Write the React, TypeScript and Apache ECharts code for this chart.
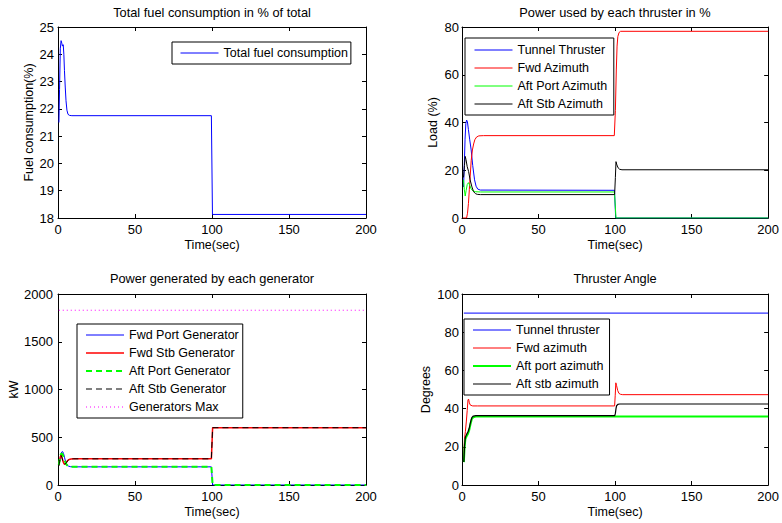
import React, { useEffect, useRef } from "react";
import * as echarts from "echarts";

const FONT = "'Liberation Sans', Arial, Helvetica, sans-serif";

// ---- Total fuel consumption (% of total) ----
const fuelTime = [0.6, 1.0, 1.5, 2.0, 2.5, 2.9, 3.4, 3.8, 4.2, 4.7, 5.2, 5.8, 6.5, 7.5, 9, 99.6, 100.3, 200];
const fuelPct = [21.5, 22.7, 24.2, 24.5, 24.4, 24.3, 24.35, 24.0, 23.4, 22.8, 22.3, 21.95, 21.8, 21.76, 21.75, 21.75, 18.13, 18.13];

// ---- Power used by each thruster (%) ----
const tunnelLoadTime = [1.0, 1.5, 2.0, 2.5, 3.0, 3.5, 4.2, 5.0, 6.0, 7.0, 8.2, 9.2, 10.3, 12, 99.6, 100.4, 200];
const tunnelLoad = [13, 22, 33, 39.5, 41, 40.5, 37, 33, 28.5, 22, 16, 13.3, 12.1, 11.7, 11.6, 0, 0];
const fwdLoadTime = [0.5, 3.0, 3.6, 4.2, 4.8, 5.4, 6.0, 6.8, 7.6, 8.4, 9.5, 11, 14, 99.5, 100.2, 100.8, 101.3, 101.8, 102.6, 103.6, 200];
const fwdLoad = [0, 0, 2, 6, 12, 18, 24, 28.5, 31, 32.8, 33.9, 34.4, 34.5, 34.5, 45, 62, 72, 76, 77.7, 78.2, 78.2];
const aftPortLoadTime = [1.0, 1.5, 2.1, 2.7, 3.4, 4.2, 5.0, 6.0, 7.2, 9, 12, 99.6, 100.6, 200];
const aftPortLoad = [16, 12, 9.2, 11.5, 14, 14.8, 13.8, 12.2, 11.3, 11, 10.9, 10.9, 0, 0];
const aftStbLoadTime = [1.0, 1.6, 2.1, 2.6, 3.4, 4.3, 5.3, 6.5, 7.6, 8.8, 10, 12, 99.7, 100.2, 100.6, 101.2, 102, 103, 104.5, 200];
const aftStbLoad = [17, 22, 25.8, 24.5, 21.5, 19.5, 16, 13, 11, 10.2, 9.9, 9.8, 9.8, 17, 23.6, 22.2, 21, 20.4, 20.2, 20.2];

// ---- Power generated by each generator (kW) ----
const portGenTime = [0.5, 1.2, 1.8, 2.4, 3.0, 3.6, 4.3, 5.0, 5.8, 6.8, 8, 10, 99.6, 100.4, 200];
const fwdPortGen = [205, 250, 310, 345, 350, 330, 285, 240, 212, 198, 192, 190, 190, 0, 0];
const aftPortGen = [210, 270, 320, 330, 320, 295, 260, 228, 208, 196, 191, 190, 190, 0, 0];
const stbGenTime = [0.5, 1.0, 1.5, 2.0, 2.6, 3.2, 3.9, 4.6, 5.4, 6.2, 7.2, 8.5, 10, 99.6, 100.4, 200];
const fwdStbGen = [205, 250, 295, 312, 290, 250, 222, 218, 235, 255, 267, 272, 274, 274, 600, 600];
const aftStbGen = [200, 245, 290, 308, 285, 248, 222, 218, 233, 253, 266, 272, 274, 274, 600, 600];
const genMaxTime = [0.5, 200];
const genMax = [1830, 1830];

// ---- Thruster angle (degrees) ----
const tunnelAngTime = [1.2, 200];
const tunnelAng = [90, 90];
const fwdAngTime = [1.1, 1.6, 2.2, 2.8, 3.4, 3.9, 4.3, 4.8, 5.5, 7, 10, 99.7, 100.1, 100.5, 101, 101.7, 102.5, 103.5, 105, 200];
const fwdAng = [12.5, 24, 28, 33, 39, 44.5, 45, 43, 41.8, 41.4, 41.4, 41.4, 47, 53.5, 52, 49.5, 48, 47.5, 47.3, 47.3];
const aftPortAngTime = [1.2, 1.7, 2.2, 3.0, 4.0, 4.8, 5.6, 6.4, 7.4, 9, 200];
const aftPortAng = [12, 20, 24, 25.5, 27, 29, 32, 34.5, 35.5, 35.8, 35.8];
const aftStbAngTime = [1.2, 1.7, 2.2, 3.0, 4.0, 4.8, 5.6, 6.4, 7.4, 9, 99.8, 100.2, 100.6, 101.0, 101.8, 103, 200];
const aftStbAng = [12, 21, 25, 26.5, 28, 30, 33, 35.3, 36.1, 36.3, 36.3, 37.5, 40, 41.5, 42.2, 42.4, 42.4];

const timeTicks = { min: 0, max: 200, interval: 50 };

const zip = (t: number[], v: number[]) => t.map((x, i) => [x, v[i]]);

const txt = (size: number) => ({ color: "#000", fontFamily: FONT, fontSize: size });

const plain = (v: number) => String(v);

const boxAxes = (
  g: number,
  y: { min: number; max: number; interval: number },
  yName: string,
  yNameGap: number,
  yLabelMargin: number
) => {
  const line = { show: true, onZero: false, lineStyle: { color: "#000", width: 1 } };
  const tick = { show: true, inside: true, length: 4, lineStyle: { color: "#000", width: 1 } };
  const xAxes = [
    {
      gridIndex: g, type: "value", position: "bottom", ...timeTicks,
      axisLine: line, axisTick: tick, splitLine: { show: false },
      axisLabel: { ...txt(13), margin: 5, formatter: plain },
      name: "Time(sec)", nameLocation: "middle", nameGap: 20, nameTextStyle: txt(12.5),
    },
    {
      gridIndex: g, type: "value", position: "top", ...timeTicks,
      axisLine: line, axisTick: tick, splitLine: { show: false }, axisLabel: { show: false },
    },
  ];
  const yAxes = [
    {
      gridIndex: g, type: "value", position: "left", ...y,
      axisLine: line, axisTick: tick, splitLine: { show: false },
      axisLabel: { ...txt(13), margin: yLabelMargin, formatter: plain },
      name: yName, nameLocation: "middle", nameGap: yNameGap, nameRotate: 90, nameTextStyle: txt(12.5),
    },
    {
      gridIndex: g, type: "value", position: "right", ...y,
      axisLine: line, axisTick: tick, splitLine: { show: false }, axisLabel: { show: false },
    },
  ];
  return { xAxes, yAxes };
};

const line = (
  g: number,
  name: string,
  t: number[],
  v: number[],
  color: string,
  width = 1,
  type: any = "solid"
) => ({
  type: "line",
  name,
  xAxisIndex: g * 2,
  yAxisIndex: g * 2,
  data: zip(t, v),
  symbol: "none",
  lineStyle: { color, width, type },
  itemStyle: { color },
  z: 2,
});

// Boxed legend: plain line samples (the marker is hidden), text to the right
const legendBox = (left: number, top: number, padding: number[], data: string[]) => ({
  orient: "vertical",
  left,
  top,
  padding,
  itemWidth: 38,
  itemHeight: 14,
  itemGap: 4,
  borderColor: "#000",
  borderWidth: 1,
  borderRadius: 0,
  backgroundColor: "#fff",
  selectedMode: false,
  itemStyle: { opacity: 0 },
  lineStyle: { width: "inherit", type: "inherit" },
  textStyle: { ...txt(12.5), lineHeight: 14 },
  data,
  z: 10,
});

const titleAt = (text: string, cx: number, top: number) => ({
  text,
  left: cx,
  top,
  textAlign: "center",
  padding: 0,
  textStyle: { ...txt(12.8), fontWeight: "normal" },
});

export default function App() {
  const ref = useRef<HTMLDivElement>(null);

  useEffect(() => {
    if (!ref.current) return;
    const chart = echarts.init(ref.current, undefined, { renderer: "svg" });

    const a0 = boxAxes(0, { min: 18, max: 25, interval: 1 }, "Fuel consumption(%)", 23, 4);
    const a1 = boxAxes(1, { min: 0, max: 80, interval: 20 }, "Load (%)", 23, 3);
    const a2 = boxAxes(2, { min: 0, max: 2000, interval: 500 }, "kW", 35, 5);
    const a3 = boxAxes(3, { min: 0, max: 100, interval: 20 }, "Degrees", 30, 3);

    chart.setOption({
      animation: false,
      backgroundColor: "#fff",
      textStyle: { fontFamily: FONT },
      title: [
        titleAt("Total fuel consumption in % of total", 212, 6),
        titleAt("Power used by each thruster in %", 615, 6),
        titleAt("Power generated by each generator", 212, 272),
        titleAt("Thruster Angle", 615, 272),
      ],
      grid: [
        { left: 58, top: 27, width: 308, height: 191 },
        { left: 462, top: 27, width: 307, height: 191 },
        { left: 58, top: 294, width: 308, height: 191 },
        { left: 462, top: 294, width: 307, height: 191 },
      ],
      xAxis: [...a0.xAxes, ...a1.xAxes, ...a2.xAxes, ...a3.xAxes],
      yAxis: [...a0.yAxes, ...a1.yAxes, ...a2.yAxes, ...a3.yAxes],
      legend: [
        legendBox(172, 42, [4, 3, 4, 8], ["Total fuel consumption"]),
        legendBox(465, 38, [5, 6, 4, 9], ["Tunnel Thruster", "Fwd Azimuth", "Aft Port Azimuth", "Aft Stb Azimuth"]),
        legendBox(77, 324, [4, 4, 4, 8], [
          "Fwd Port Generator", "Fwd Stb Generator", "Aft Port Generator", "Aft Stb Generator", "Generators Max",
        ]),
        legendBox(464, 319, [4, 6, 4, 8], ["Tunnel thruster", "Fwd azimuth", "Aft port azimuth", "Aft stb azimuth"]),
      ],
      series: [
        line(0, "Total fuel consumption", fuelTime, fuelPct, "#0000ff"),

        line(1, "Tunnel Thruster", tunnelLoadTime, tunnelLoad, "#0000ff"),
        line(1, "Fwd Azimuth", fwdLoadTime, fwdLoad, "#ff0000"),
        line(1, "Aft Port Azimuth", aftPortLoadTime, aftPortLoad, "#00ff00"),
        line(1, "Aft Stb Azimuth", aftStbLoadTime, aftStbLoad, "#000000"),

        line(2, "Fwd Port Generator", portGenTime, fwdPortGen, "#0000ff"),
        line(2, "Fwd Stb Generator", stbGenTime, fwdStbGen, "#ff0000", 1.5),
        line(2, "Aft Port Generator", portGenTime, aftPortGen, "#00ff00", 2, [6, 4]),
        line(2, "Aft Stb Generator", stbGenTime, aftStbGen, "#000000", 1, [6, 4]),
        line(2, "Generators Max", genMaxTime, genMax, "#ff00ff", 1, [1, 3]),

        line(3, "Tunnel thruster", tunnelAngTime, tunnelAng, "#0000ff"),
        line(3, "Fwd azimuth", fwdAngTime, fwdAng, "#ff0000"),
        line(3, "Aft port azimuth", aftPortAngTime, aftPortAng, "#00ff00", 2),
        line(3, "Aft stb azimuth", aftStbAngTime, aftStbAng, "#000000", 1.2),
      ],
    });

    return () => chart.dispose();
  }, []);

  return (
    <div
      ref={ref}
      style={{ position: "fixed", left: 0, top: 0, width: 782, height: 523, background: "#fff" }}
    />
  );
}
